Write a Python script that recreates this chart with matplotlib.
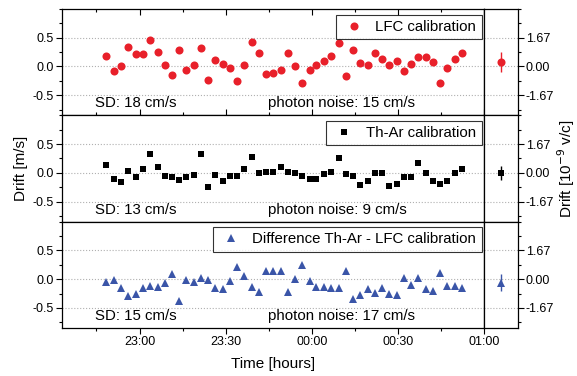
import numpy as np
import pandas as pd
import matplotlib
matplotlib.use("Agg")
import matplotlib.pyplot as plt
import matplotlib.dates as mdates
from matplotlib.ticker import MultipleLocator, FixedLocator, FormatStrFormatter

plt.rcParams['font.family'] = ['Liberation Sans', 'DejaVu Sans']
plt.rcParams['axes.unicode_minus'] = False

# observation times (evening of day 1 -> after midnight of day 2)
times = ["22:48:30", "22:51:03", "22:53:36", "22:56:02", "22:58:37", "23:01:09", "23:03:35",
         "23:06:16", "23:08:43", "23:11:15", "23:13:41", "23:16:14", "23:18:49", "23:21:22",
         "23:23:48", "23:26:20", "23:28:55", "23:31:28", "23:34:00", "23:36:27", "23:39:01",
         "23:41:34", "23:44:00", "23:46:33", "23:49:08", "23:51:34", "23:54:06", "23:56:40",
         "23:59:14", "00:01:36", "00:04:13", "00:06:46", "00:09:20", "00:11:53", "00:14:19",
         "00:16:52", "00:19:26", "00:21:59", "00:24:26", "00:26:58", "00:29:33", "00:31:59",
         "00:34:32", "00:37:04", "00:39:39", "00:42:05", "00:44:38", "00:47:11", "00:49:46",
         "00:52:18"]

# drift in m/s
lfc = [0.18, -0.07, 0.00, 0.34, 0.21, 0.22, 0.46, 0.25, 0.03, -0.15,
       0.28, -0.06, 0.03, 0.32, -0.23, 0.12, 0.05, -0.02, -0.26, 0.03,
       0.42, 0.24, -0.13, -0.11, -0.06, 0.24, 0.00, -0.29, -0.06, 0.03,
       0.10, 0.19, 0.41, -0.17, 0.29, 0.06, 0.03, 0.23, 0.13, 0.03,
       0.09, -0.08, 0.05, 0.16, 0.17, 0.08, -0.28, -0.02, 0.13, 0.24]
thar = [0.13, -0.10, -0.16, 0.04, -0.08, 0.06, 0.33, 0.10, -0.06, -0.07,
        -0.13, -0.07, -0.03, 0.33, -0.24, -0.03, -0.14, -0.06, -0.06, 0.07,
        0.28, 0.00, 0.01, 0.02, 0.10, 0.01, 0.00, -0.06, -0.11, -0.11,
        -0.02, 0.02, 0.25, -0.02, -0.06, -0.21, -0.15, -0.01, -0.01, -0.23,
        -0.19, -0.07, -0.07, 0.17, -0.01, -0.14, -0.20, -0.15, 0.00, 0.07]
diff = [-0.05, -0.02, -0.15, -0.29, -0.26, -0.15, -0.12, -0.14, -0.07, 0.09,
        -0.38, -0.01, -0.05, 0.02, -0.01, -0.15, -0.18, -0.03, 0.21, 0.06,
        -0.13, -0.23, 0.15, 0.14, 0.15, -0.22, 0.01, 0.24, -0.04, -0.13,
        -0.13, -0.16, -0.16, 0.14, -0.34, -0.27, -0.18, -0.24, -0.15, -0.25,
        -0.28, 0.02, -0.11, 0.02, -0.17, -0.21, 0.10, -0.12, -0.12, -0.15]

# mean and uncertainty shown in the side panel
means = [0.08, 0.00, -0.06]
errs = [0.18, 0.12, 0.15]

labels = ["LFC calibration", "Th-Ar calibration", "Difference Th-Ar - LFC calibration"]
sd_text = ["SD: 18 cm/s", "SD: 13 cm/s", "SD: 15 cm/s"]
noise_text = ["photon noise: 15 cm/s", "photon noise: 9 cm/s", "photon noise: 17 cm/s"]
left_ticks = [-0.5, 0.0, 0.5]
right_labels = ["-1.67", "0.00", "1.67"]

t = pd.to_datetime(["2010-01-01 " + s for s in times])
t = [x + pd.Timedelta(days=1) if x.hour < 12 else x for x in t]

series = [lfc, thar, diff]
styles = [dict(marker='o', color='#e8202a', ms=5.8),
          dict(marker='s', color='black', ms=4.4),
          dict(marker='^', color='#3a55a8', ms=6.3)]

W, H = 577, 376
fig = plt.figure(figsize=(W / 100, H / 100), dpi=100)

x0, x1, x2 = 62, 484, 518
top, bot = 9, 328
ph = (bot - top) / 3

xmin = pd.Timestamp("2010-01-01 22:33:00")
xmax = pd.Timestamp("2010-01-02 01:00:00")
ylim = (-0.85, 1.0)
fs = 10.8

for i in range(3):
    ybot = top + (i + 1) * ph
    ax = fig.add_axes([x0 / W, 1 - ybot / H, (x1 - x0) / W, ph / H])
    axr = fig.add_axes([x1 / W, 1 - ybot / H, (x2 - x1) / W, ph / H])

    st = styles[i]
    ax.plot(t, series[i], linestyle='none', marker=st['marker'], color=st['color'],
            ms=st['ms'], mew=0, label=labels[i])
    axr.errorbar([0], [means[i]], yerr=[errs[i]], fmt=st['marker'], color=st['color'],
                 ms=st['ms'], mew=0, capsize=2.6, elinewidth=1.0, capthick=1.0)
    axr.set_xlim(-1, 1)

    ax.set_ylim(*ylim)
    axr.set_ylim(*ylim)
    ax.set_xlim(xmin, xmax)
    ax.yaxis.set_major_locator(FixedLocator(left_ticks))
    ax.yaxis.set_minor_locator(MultipleLocator(0.25))
    ax.yaxis.set_major_formatter(FormatStrFormatter('%.1f'))
    ax.xaxis.set_major_locator(mdates.MinuteLocator(byminute=[0, 30]))
    ax.xaxis.set_minor_locator(mdates.MinuteLocator(byminute=[15, 45]))
    ax.xaxis.set_major_formatter(mdates.DateFormatter('%H:%M'))

    axr.yaxis.set_major_locator(FixedLocator(left_ticks))
    axr.yaxis.set_minor_locator(MultipleLocator(0.25))
    axr.set_yticklabels(right_labels)

    for a in (ax, axr):
        a.grid(True, axis='y', which='major', linestyle=':', color='#b0b0b0', linewidth=0.8)
        a.set_axisbelow(True)
        for s in a.spines.values():
            s.set_linewidth(0.9)

    ax.tick_params(axis='both', which='major', direction='out', length=4, width=0.8,
                   labelsize=9, pad=2)
    ax.tick_params(axis='both', which='minor', direction='out', length=2.5, width=0.8)
    ax.tick_params(axis='y', which='both', right=False)
    if i == 0:
        ax.tick_params(axis='x', which='both', top=True, direction='in')
    if i < 2:
        ax.tick_params(axis='x', which='both', labelbottom=False)

    axr.tick_params(axis='x', which='both', bottom=False, labelbottom=False)
    axr.tick_params(axis='y', which='both', left=False, labelleft=False,
                    right=True, labelright=True, direction='out', labelsize=9, pad=1.5)
    axr.tick_params(axis='y', which='major', length=4, width=0.8)
    axr.tick_params(axis='y', which='minor', length=2.5, width=0.8)

    leg = ax.legend(loc='upper right', bbox_to_anchor=(1 - 2.5 / (x1 - x0), 1 - 5.5 / ph),
                    fontsize=fs, frameon=True, fancybox=False, edgecolor='black',
                    handletextpad=0.6, borderpad=0.35, borderaxespad=0,
                    handlelength=1.7)
    leg.get_frame().set_linewidth(0.8)

    ax.text(0.078, 0.075, sd_text[i], transform=ax.transAxes, fontsize=fs, va='baseline')
    ax.text(0.488, 0.075, noise_text[i], transform=ax.transAxes, fontsize=fs, va='baseline')

    if i == 1:
        ax.set_ylabel("Drift [m/s]", fontsize=11, labelpad=3)
        axr.yaxis.set_label_position('right')
        axr.set_ylabel("Drift [10$^{-9}$ v/c]", fontsize=11, labelpad=1)
    if i == 2:
        ax.set_xlabel("Time [hours]", fontsize=11, labelpad=6)

fig.savefig("out.png", dpi=100)
